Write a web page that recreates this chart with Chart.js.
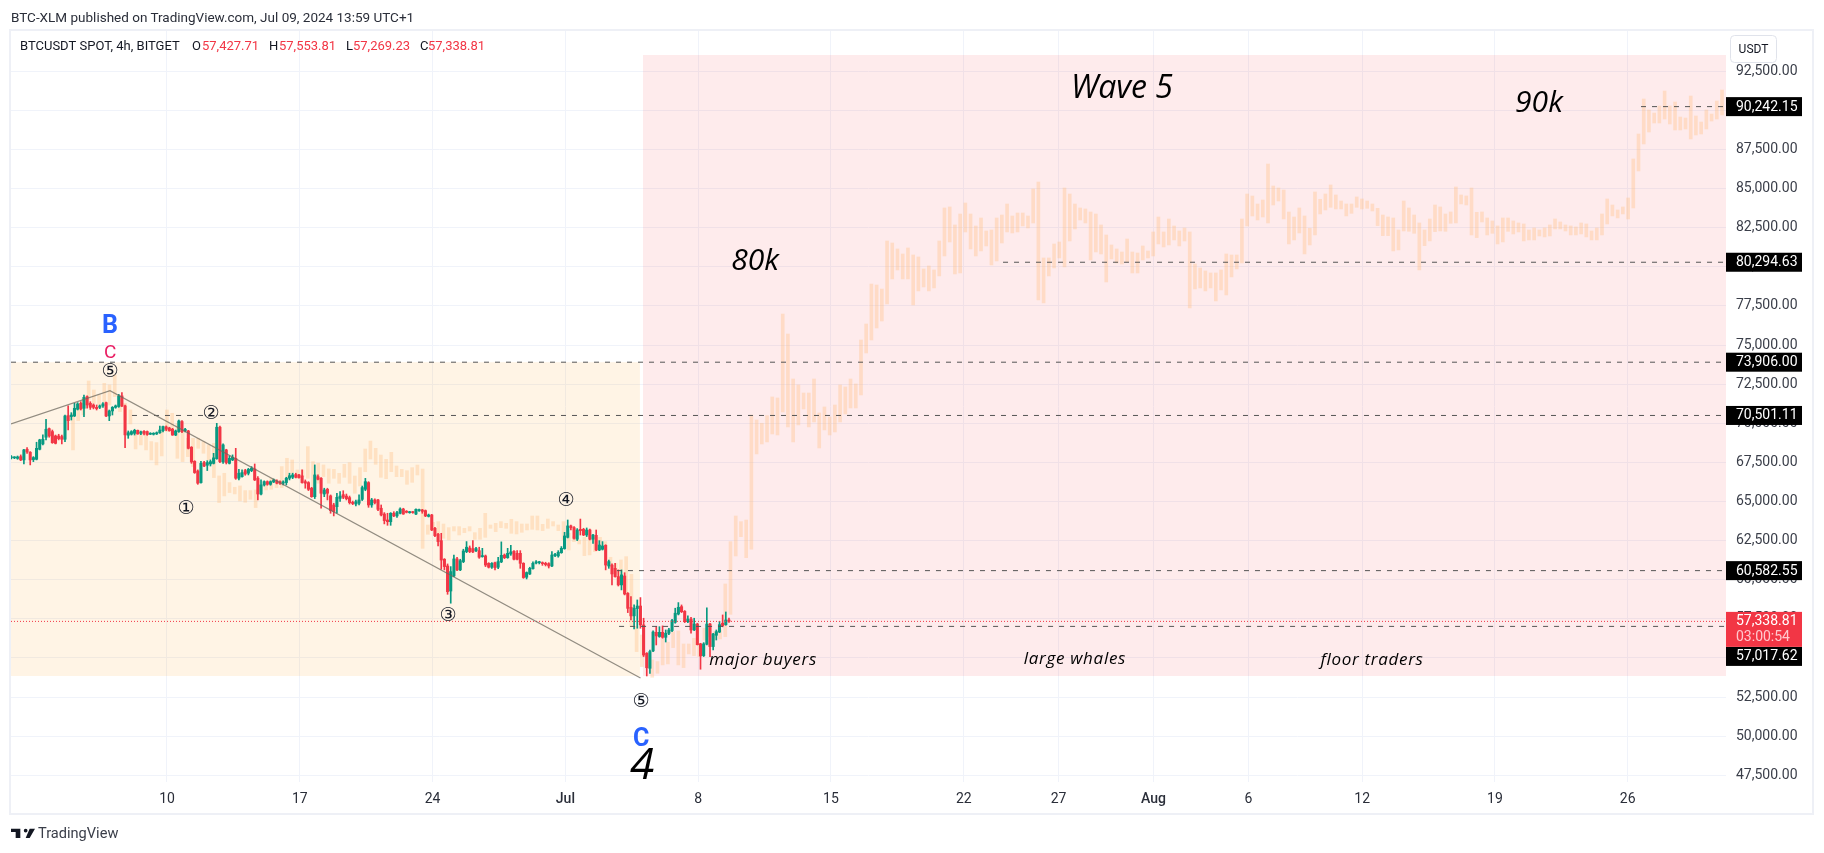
<!DOCTYPE html>
<html>
<head>
<meta charset="utf-8">
<title>BTCUSDT SPOT, 4h, BITGET</title>
<script src="https://cdn.jsdelivr.net/npm/chart.js@4"></script>
<style>
  html, body { margin: 0; padding: 0; background: #fff; width: 1824px; height: 853px; overflow: hidden; }
  #chart { position: absolute; left: 0; top: 0; }
  #published { position: absolute; left: 11px; top: 9px; font: 13.5px Roboto, sans-serif; color: #2a2e39; white-space: nowrap; }
  #brand { position: absolute; left: 38px; top: 824px; font: 14.6px Roboto, sans-serif; color: #3a3e49; }
  #logo { position: absolute; left: 11px; top: 825px; }
</style>
</head>
<body>
<canvas id="chart" width="1824" height="853"></canvas>
<div id="published">BTC-XLM published on TradingView.com, Jul 09, 2024 13:59 UTC+1</div>
<svg id="logo" width="24" height="16" viewBox="0 4 36 17"><path fill="#131722" d="M14 6H0v5h7v9h7zM28 20h-6l6-14h8zM22 6a2.8 2.8 0 1 0 0 5.6 2.8 2.8 0 0 0 0-5.6z"/></svg>
<div id="brand">TradingView</div>
<script>
// x axis is in days counted from Jun 0 (Jun 10 = 9, Jul 1 = 30, Aug 1 = 61)
const xTickDays = [9, 16, 23, 30, 37, 44, 51, 56, 61, 66, 72, 79, 86];
const xTickLabels = ["10", "17", "24", "Jul", "8", "15", "22", "27", "Aug", "6", "12", "19", "26"];
const yTickValues = [47500, 50000, 52500, 55000, 57500, 60000, 62500, 65000, 67500, 70000, 72500, 75000, 77500, 80000, 82500, 85000, 87500, 90000, 92500];

// 4h candles, first one at candleStartDay
const candleStartDay = 0.79;
const candleOpen = [
  67790,67790,67760,67870,67660,68340,68150,67680,67700,68340,68680,69110,69660,69470,69190,69190,69150,68980,70490,70430,
  70470,70900,71280,70960,71700,71280,71170,71020,71020,71110,71320,70470,70790,71020,71070,71750,71110,69240,69300,69360,
  69550,69360,69490,69470,69300,69300,69320,69400,69530,69770,69700,69620,69250,69470,70110,69530,69510,68470,67570,66950,
  66210,67490,67320,67400,67440,67740,69750,67530,68300,67440,67660,67760,66490,66590,66980,66810,66980,67080,66490,65480,
  66060,66270,66100,66250,66320,66270,66170,66210,66490,66550,66720,66700,66640,66270,66210,65850,65310,66590,66490,65480,
  65780,65360,64780,64670,65200,65440,65350,65250,64950,64840,64890,65140,65780,66210,64780,65100,65100,64570,64200,63820,
  63710,64250,64080,64250,64520,64380,64290,64330,64200,64420,64460,64420,64050,64140,63290,62910,62500,61310,60880,59280,
  60240,61330,60630,61160,61800,62030,61990,61860,61860,61480,61520,61050,60800,61090,60800,61140,61580,61410,61650,61820,
  61690,61690,61050,60160,60370,60710,61070,61090,61090,61050,61030,60880,61540,61520,61730,61990,62710,63440,63330,62590,
  63220,63220,62860,63180,62590,62840,61900,61950,62200,60880,60940,60730,60200,59670,60240,59130,58240,57690,58160,58320,
  57110,55300,54340,55450,56640,56370,56640,56320,56580,56750,57280,57810,58280,57980,57320,57490,56790,57170,55900,55150,
  55880,57170,55730,56450,56660,57220,57130,57427.71
];
const candleHigh = [
  67940,67870,67910,67980,68340,68450,68190,67870,68790,68980,69260,70260,69700,69570,69250,69300,69250,70530,71110,70680,
  71280,71320,71380,71810,71750,71380,71240,71170,71170,71320,71360,70850,71070,71170,71850,71960,71170,69510,69530,69620,
  69570,69510,69530,69510,69400,69400,69450,69830,69830,69830,69750,69680,69570,70210,70170,69680,69550,68510,67610,67020,
  67570,67570,67610,67660,68080,70000,69830,68680,68340,67920,67980,68400,67060,67020,67060,67120,67230,67400,66590,66380,
  66320,66320,66320,66440,66380,66320,66320,66550,66810,66810,66810,66740,67020,66380,66270,65910,67340,66700,66530,65850,
  65850,65420,64890,65530,65630,65690,65480,65350,65030,65100,65420,65990,66480,66270,65200,65180,65140,64780,64290,64250,
  64290,64350,64370,64590,64570,64420,64370,64370,64540,64520,64500,64460,64200,64180,63350,62970,62970,61350,61010,60840,
  61580,61440,61310,61950,62440,62160,62500,62080,62080,62010,61580,61090,61090,61130,61440,62420,61650,62010,62200,61860,
  61860,61860,61090,60500,60800,61140,61220,61180,61140,61120,61090,61800,61690,61860,62120,63030,63820,63500,63400,63270,
  63880,63290,63310,63240,62900,63180,62500,62440,62240,61260,61010,61050,60630,60630,60450,59180,58920,58390,58710,58860,
  57540,55340,55510,56730,57000,57000,57050,56790,56900,57470,58180,58540,58390,58030,57690,57600,57540,57220,55940,55980,
  58200,57220,56580,56790,57340,57750,57940,57553.81
];
const candleLow = [
  67720,67740,67700,67610,67400,68080,67340,67550,67660,68300,68620,68940,69110,68720,68680,68940,68680,68830,69570,70210,
  70430,70850,70850,70430,70960,70890,70920,70850,70940,71020,70430,70170,70530,70960,71020,71070,68450,69040,69250,69250,
  69300,69280,69250,69230,69280,69250,69280,69360,69450,69530,69490,69230,69210,69420,69400,69450,68360,67440,66800,66100,
  66170,67230,66980,67270,67400,67700,67490,67440,67400,67400,67610,66420,66380,66550,66680,66700,66910,66340,65100,65420,
  65990,66040,66040,66210,66120,66100,66060,66060,66380,66460,66510,66490,66170,65850,65700,65270,65190,66380,64570,65310,
  65100,64250,64080,64250,65000,65180,65100,64840,64800,64720,64780,65060,65690,64630,64630,64840,64420,64080,63570,63480,
  63480,64030,63990,64200,64180,64270,64250,64250,64160,64370,64250,64030,64010,63140,62760,62160,60670,60630,59070,58500,
  60200,60580,60580,61090,61730,61730,61730,61800,61370,61440,60840,60750,60730,60630,60710,61090,61350,61370,61560,61260,
  61260,60730,60090,60050,60330,60670,61010,61010,60920,60880,60750,60840,61480,61440,61690,61950,62670,63180,62590,62500,
  62860,62820,62760,62540,62330,61860,61860,61900,60630,60730,59670,60160,59600,59350,59030,57900,57430,56860,56900,56900,
  55090,53850,54020,55410,55830,56320,56260,56020,56490,56680,57220,57750,57900,57260,57260,56580,56750,55830,54280,55090,
  55830,55090,55510,56150,56620,56990,57090,57269.23
];
const candleClose = [
  67850,67830,67850,67660,68300,68170,67660,67810,68400,68940,68980,69620,69190,68760,68720,69020,68980,70470,70170,70530,
  70960,71240,70920,71660,71170,71020,71020,70940,71110,71240,70470,70790,71020,71110,71750,71110,69260,69400,69470,69550,
  69320,69450,69360,69280,69360,69360,69400,69570,69790,69620,69530,69250,69510,70150,69470,69620,68400,67530,66850,66170,
  67440,67270,67490,67550,67790,69750,67550,68620,67490,67760,67830,66490,66810,66850,66760,67060,67120,66380,65480,66060,
  66270,66100,66270,66380,66170,66170,66250,66490,66650,66700,66550,66530,66210,66170,65780,65310,66700,66420,65530,65740,
  65530,64420,64360,65270,65350,65270,65180,64930,64870,64990,65100,65890,66270,64780,65100,64930,64500,64140,63780,63710,
  64250,64080,64290,64520,64200,64310,64330,64290,64500,64480,64370,64080,64140,63180,62820,62440,61260,60840,59240,60520,
  61330,60630,61220,61840,62080,61800,61780,61990,61440,61540,60940,60800,61050,60780,61160,61560,61410,61690,61780,61310,
  61310,61050,60140,60460,60730,61050,61140,61140,61030,60970,60880,61580,61630,61750,62010,62800,63440,63330,62650,63180,
  63140,62860,63180,62590,62860,61900,62220,62160,60940,61160,60370,60200,59670,60310,59090,58170,57690,58180,58320,57110,
  55190,54380,55410,56660,56410,56640,56320,56580,56790,57390,57860,58240,57960,57320,57490,56790,57170,55850,55130,55900,
  57170,55730,56530,56680,57130,57070,57430,57338.81
];

// Pasted projection bars (pale orange), evenly spaced between these two days
const ghostStartDay = 4.045;
const ghostEndDay = 90.97;
const ghostHigh = [
  70640,71066,71600,72706,72131,71811,72557,72450,73090,71492,71279,70853,69468,69468,69468,68830,68766,69468,70853,70640,
  70000,69468,69042,69042,69042,68830,68617,68723,66636,66806,66210,65911,65996,65698,65698,65741,66060,66273,66486,66380,
  67232,67764,67658,67019,67019,68510,67551,67445,67338,67083,
  67059,66803,67378,67485,66633,67165,68358,68869,68400,67974,67698,68145,67272,67059,66973,67165,67335,67080,63500,63670,
  63715,63565,63331,63395,63395,63289,63395,63012,63289,64247,63501,63608,63715,63608,63864,63715,63565,63565,64077,64077,
  63544,63885,63715,63501,63715,62969,62756,62543,62713,62543,62713,62713,62436,61435,61052,61265,
  61478,60348,57004,56471,55300,54874,54768,56216,56003,56684,56727,55896,55896,56258,55939,56897,57174,56684,56791,59730,
  62435,64076,63713,63820,70533,
  70214,70001,70491,71684,71620,76987,75709,72834,72450,71939,71939,72834,70661,71044,70406,71172,72450,72323,72834,72514,
  75326,76348,78904,78840,78585,
  81655,81527,81144,80824,81208,80761,80633,79866,80058,79802,81655,83764,83828,82678,83380,84083,83380,
  82614,83125,82294,82358,83125,83316,84019,83253,83444,83444,83253,84978,85425,80569,80569,81463,81591,85042,84658,84019,
  83764,83700,83508,83380,82678,82038,81399,81144,80952,81783,80952,80888,81335,81016,82230,83188,82230,83061,82614,82294,
  82486,82230,80185,79930,79738,79610,79610,79802,80825,80761,80761,83061,84658,84530,84019,84275,86575,85170,85042,84914,
  83508,83188,83764,
  83254,82465,84787,84319,84660,85235,84596,84212,84021,84021,84468,84340,84212,84021,83743,83317,83190,83126,82359,84212,
  83765,83317,82807,82359,83062,83956,83829,83381,83509,85107,84596,84532,85043,83488,83509,83126,82934,82615,83126,83126,
  82934,82807,82743,82359,82487,82359,82487,82679,83062,82870,82679,82615,82551,82807,82743,82295,82487,83381,84340,83956,
  83637,83829,84404,86896,88493,90730,90027,89835,90283,91241,90283,90538,89580,89516,90922,89644,89260,90027,89771,90602,
  91305
];
const ghostLow = [
  68297,70171,70540,71492,71279,71172,71386,71172,71706,70746,70214,69958,68361,68617,68297,67658,67338,67914,69468,69362,
  67764,67551,67871,67232,68404,68084,67658,66529,64932,65357,65571,65485,65038,64953,65145,64612,65677,65741,65784,65890,
  65890,66486,66806,66486,66593,66486,65315,66167,66593,66167,
  66484,66164,66547,66164,65525,65994,66909,67719,67378,66547,66462,66909,66590,66590,66100,66228,66696,62010,62905,63180,
  62930,62650,62543,63118,62862,63012,63118,62585,62585,62713,63289,63075,63331,63289,62969,62926,63033,63182,63225,63182,
  63140,63289,63437,63140,62543,61904,62436,62287,61542,61585,61798,61904,62223,60839,60370,59774,
  59134,57004,55406,54448,54342,53766,54022,54554,54618,55662,54554,54384,55257,55151,55087,56152,56365,56152,56216,56365,
  57792,61520,62755,61413,61954,
  68041,68680,68808,69319,69255,70725,69767,68808,69895,70917,69767,70086,68425,69575,69255,69447,70086,70597,70981,70981,
  71811,74495,75326,76093,76540,
  77629,79227,79802,79227,79227,77566,78460,78716,78460,78652,79419,80697,81591,79546,79610,82230,81144,
  80697,81016,81335,80121,80377,81527,82230,82166,82230,82614,82486,82805,77885,77693,79419,79930,80569,79994,81655,82422,
  82997,82805,80441,80952,80824,79035,80505,80249,80185,80313,79610,79610,80441,80569,80697,81463,81272,81399,81719,81335,
  81655,77374,78588,78652,78460,78652,77821,78524,78204,79355,79866,80249,82614,83253,82997,83189,82805,83955,84211,83061,
  81463,81719,82166,
  80825,81400,82040,83381,83637,83807,83701,83701,83254,83424,83807,83701,83743,83573,82636,81997,81997,81017,81081,82295,
  82274,82146,79803,81358,81656,82252,82295,82274,82785,82806,84021,83956,82040,81869,82870,82040,82146,81464,81592,82274,
  82104,82231,81656,81720,81720,81976,81912,81976,82423,82423,82295,82040,82040,82104,81912,81720,81720,82040,82743,83254,
  83126,83381,83062,83765,86129,87855,88621,89196,89196,89452,89132,88749,88749,88813,88174,88429,88493,88813,89324,89452,
  89707
];

// Wave trendline
const trendDays = [0.777, 5.995, 33.96];
const trendPrices = [69955, 72084, 53720];

// Horizontal levels and where each one starts
const levelPrices = [90242.15, 80294.63, 73906.00, 70501.11, 60582.55, 57017.62];
const levelStartDays = [86.70, 53.07, 0.777, 7.155, 32.72, 32.83];
const lastPrice = 57338.81;
const countdown = "03:00:54";

const DAY_MIN = 0.777, DAY_MAX = 91.18, PRICE_MIN = 47072, PRICE_MAX = 95076;
const GREEN = "#089981", RED = "#F23645", BLUE = "#2962FF";
const fmt = (v) => v.toLocaleString("en-US", { minimumFractionDigits: 2, maximumFractionDigits: 2 });
const UI_FONT = "Roboto, sans-serif";
const NOTE_FONT = "'Open Sans', sans-serif";

// Shaded boxes: [day from, day to, price bottom, price top, colour]
const boxes = [
  [DAY_MIN, 33.93, 53847, 73906, "rgba(255,152,0,0.1)"],
  [34.09, DAY_MAX, 53847, 93542, "rgba(242,54,69,0.1)"],
];

const CIRCLED = "19px 'DejaVu Sans'";
const notes = [
  { text: "B", day: 6.0, price: 76190, font: `bold 25px ${UI_FONT}`, color: BLUE },
  { text: "C", day: 6.0, price: 74480, font: `19px ${UI_FONT}`, color: "#E91E63" },
  { text: "⑤", day: 6.0, price: 73260, font: CIRCLED, color: "#131722" },
  { text: "①", day: 10.0, price: 64500, font: CIRCLED, color: "#131722" },
  { text: "②", day: 11.32, price: 70570, font: CIRCLED, color: "#131722" },
  { text: "③", day: 23.81, price: 57660, font: CIRCLED, color: "#131722" },
  { text: "④", day: 30.03, price: 65010, font: CIRCLED, color: "#131722" },
  { text: "⑤", day: 33.99, price: 52165, font: CIRCLED, color: "#131722" },
  { text: "C", day: 34.0, price: 49800, font: `bold 25px ${UI_FONT}`, color: BLUE },
  { text: "4", day: 34.05, price: 48040, font: `italic 44px ${NOTE_FONT}`, color: "#000" },
  { text: "Wave 5", day: 59.34, price: 91350, font: `italic 32px ${NOTE_FONT}`, color: "#000" },
  { text: "80k", day: 40.0, price: 80370, font: `italic 30px ${NOTE_FONT}`, color: "#000" },
  { text: "90k", day: 81.32, price: 90470, font: `italic 30px ${NOTE_FONT}`, color: "#000" },
  { text: "major buyers", day: 40.42, price: 54870, font: `italic 17px ${NOTE_FONT}`, color: "#000", spacing: "0.7px" },
  { text: "large whales", day: 56.86, price: 54930, font: `italic 17px ${NOTE_FONT}`, color: "#000", spacing: "0.7px" },
  { text: "floor traders", day: 72.52, price: 54870, font: `italic 17px ${NOTE_FONT}`, color: "#000", spacing: "0.7px" },
];

const candleX = (i) => candleStartDay + i / 6;
const ghostX = (i) => ghostStartDay + (i * (ghostEndDay - ghostStartDay)) / (ghostHigh.length - 1);

const boxPlugin = {
  id: "boxes",
  beforeDatasetsDraw(chart) {
    const { ctx, scales: { x, y } } = chart;
    ctx.save();
    boxes.forEach(([d0, d1, p0, p1, color]) => {
      const left = x.getPixelForValue(d0);
      const top = y.getPixelForValue(p1);
      ctx.fillStyle = color;
      ctx.fillRect(left, top, x.getPixelForValue(d1) - left, y.getPixelForValue(p0) - top);
    });
    ctx.restore();
  },
};

const overlayPlugin = {
  id: "overlay",
  afterDraw(chart) {
    const { ctx, chartArea, scales: { x, y } } = chart;
    ctx.save();

    // Notes on the chart, clipped like the pane (the big 4 gets cut at the bottom)
    ctx.save();
    ctx.beginPath();
    ctx.rect(chartArea.left, chartArea.top, chartArea.right - chartArea.left, chartArea.bottom - chartArea.top);
    ctx.clip();
    ctx.textAlign = "center";
    ctx.textBaseline = "middle";
    notes.forEach((n) => {
      ctx.font = n.font;
      ctx.letterSpacing = n.spacing || "0px";
      ctx.fillStyle = n.color;
      ctx.fillText(n.text, x.getPixelForValue(n.day), y.getPixelForValue(n.price));
    });
    ctx.letterSpacing = "0px";
    ctx.restore();

    // Legend line
    ctx.textAlign = "left";
    ctx.textBaseline = "middle";
    ctx.font = `13px ${UI_FONT}`;
    const legend = [
      ["BTCUSDT SPOT, 4h, BITGET", 20, "#131722"],
      ["O", 192, "#131722"], ["57,427.71", 202, RED],
      ["H", 269, "#131722"], ["57,553.81", 279, RED],
      ["L", 346, "#131722"], ["57,269.23", 353, RED],
      ["C", 420, "#131722"], ["57,338.81", 428, RED],
    ];
    legend.forEach(([text, px, color]) => {
      ctx.fillStyle = color;
      ctx.fillText(text, px, 47);
    });

    // Price tags on the axis
    const tagLeft = chartArea.right, tagW = 76, textX = tagLeft + 10;
    ctx.font = `14px ${UI_FONT}`;
    levelPrices.forEach((p) => {
      let cy = y.getPixelForValue(p);
      if (p === 57017.62) cy += 30; // pushed below the last price tag
      ctx.fillStyle = "#000";
      ctx.fillRect(tagLeft, cy - 9.5, tagW, 19);
      ctx.fillStyle = "#fff";
      ctx.fillText(fmt(p), textX, cy + 0.5);
    });
    const lastY = y.getPixelForValue(lastPrice);
    ctx.fillStyle = RED;
    ctx.fillRect(tagLeft, lastY - 9.5, tagW, 35);
    ctx.fillStyle = "#fff";
    ctx.fillText(fmt(lastPrice), textX, lastY + 0.5);
    ctx.fillStyle = "#ffc9ce";
    ctx.fillText(countdown, textX, lastY + 16);

    // USDT button
    ctx.strokeStyle = "#E0E3EB";
    ctx.lineWidth = 1;
    ctx.fillStyle = "#fff";
    ctx.beginPath();
    ctx.roundRect(1730.5, 35.5, 46, 27, 4);
    ctx.fill();
    ctx.stroke();
    ctx.fillStyle = "#131722";
    ctx.font = `12px ${UI_FONT}`;
    ctx.textAlign = "center";
    ctx.fillText("USDT", 1753.5, 49.5);

    // Outer frame
    ctx.strokeStyle = "#EEF0F6";
    ctx.lineWidth = 2;
    ctx.strokeRect(10, 30, 1803, 784);
    ctx.restore();
  },
};

const barDefaults = { type: "bar", grouped: false, borderWidth: 0, minBarLength: 1 };

const levelDatasets = levelPrices.map((p, i) => ({
  type: "line",
  data: [{ x: levelStartDays[i], y: p }, { x: DAY_MAX, y: p }],
  borderColor: "#555",
  borderWidth: 1,
  borderDash: [5, 6],
  pointRadius: 0,
  order: 1,
}));

new Chart(document.getElementById("chart"), {
  type: "bar",
  data: {
    datasets: [
      {
        ...barDefaults,
        data: ghostHigh.map((h, i) => ({ x: ghostX(i), y: [ghostLow[i], h] })),
        backgroundColor: "rgba(255,190,130,0.36)",
        barThickness: 3,
        order: 5,
      },
      {
        ...barDefaults,
        data: candleHigh.map((h, i) => ({ x: candleX(i), y: [candleLow[i], h] })),
        backgroundColor: candleOpen.map((o, i) => (candleClose[i] >= o ? GREEN : RED)),
        barThickness: 1,
        order: 3,
      },
      {
        ...barDefaults,
        data: candleOpen.map((o, i) => ({ x: candleX(i), y: [Math.min(o, candleClose[i]), Math.max(o, candleClose[i])] })),
        backgroundColor: candleOpen.map((o, i) => (candleClose[i] >= o ? GREEN : RED)),
        barThickness: 2.4,
        order: 2,
      },
      {
        type: "line",
        data: trendDays.map((d, i) => ({ x: d, y: trendPrices[i] })),
        borderColor: "rgba(110,105,95,0.75)",
        borderWidth: 1.3,
        pointRadius: 0,
        order: 1,
      },
      ...levelDatasets,
      {
        type: "line",
        data: [{ x: DAY_MIN, y: lastPrice }, { x: DAY_MAX, y: lastPrice }],
        borderColor: RED,
        borderWidth: 1,
        borderDash: [1, 2],
        pointRadius: 0,
        order: 1,
      },
    ],
  },
  options: {
    responsive: false,
    animation: false,
    layout: { padding: { left: 11, right: 11, top: 31, bottom: 39 } },
    plugins: { legend: { display: false }, tooltip: { enabled: false }, title: { display: false } },
    scales: {
      x: {
        type: "linear",
        min: DAY_MIN,
        max: DAY_MAX,
        offset: false,
        afterBuildTicks: (scale) => { scale.ticks = xTickDays.map((value) => ({ value })); },
        afterFit: (scale) => { scale.height = 32; },
        grid: { offset: false, color: "#F0F3FA", drawTicks: false },
        border: { display: false },
        ticks: {
          autoSkip: false,
          maxRotation: 0,
          padding: 9,
          color: "#2a2e39",
          font: (ctx) => ({ family: UI_FONT, size: 14, weight: ctx.tick && (ctx.tick.value === 30 || ctx.tick.value === 61) ? "500" : "400" }),
          callback: (v) => xTickLabels[xTickDays.indexOf(v)],
        },
      },
      y: {
        type: "linear",
        position: "right",
        min: PRICE_MIN,
        max: PRICE_MAX,
        afterBuildTicks: (scale) => { scale.ticks = yTickValues.map((value) => ({ value })); },
        afterFit: (scale) => { scale.width = 87; },
        grid: { color: "#F0F3FA", drawTicks: false },
        border: { display: false },
        ticks: {
          padding: 10,
          color: "#3a3e49",
          font: { family: UI_FONT, size: 14 },
          callback: (v) => fmt(v),
        },
      },
    },
  },
  plugins: [boxPlugin, overlayPlugin],
});
</script>
</body>
</html>
